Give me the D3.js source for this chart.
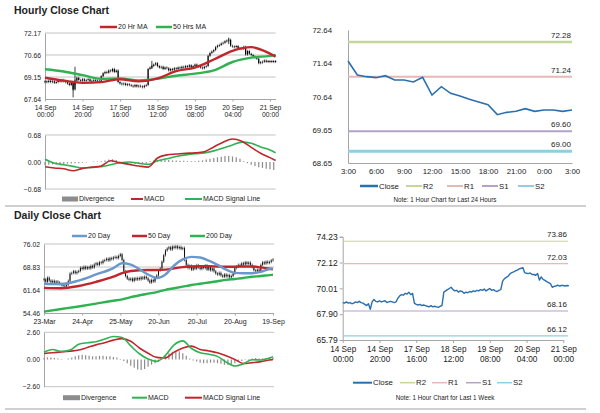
<!DOCTYPE html>
<html>
<head>
<meta charset="utf-8">
<script src="https://cdn.jsdelivr.net/npm/d3@7"></script>
<style>
body { margin: 0; background: #fff; }
svg { display: block; font-family: 'Liberation Sans', Arial, sans-serif; }
</style>
</head>
<body>
<svg id="board" width="600" height="413"></svg>
<script>
// hourly closes, one per bar, 14 Sep 00:00 onward (also used for the 1 week chart)
let hourClose = [68.85, 68.8, 68.9, 68.8, 68.85, 68.75, 68.8, 68.9, 68.85, 68.95, 68.85, 68.8,
    68.7, 68.6, 68.75, 68.3, 68.9, 69.1,
    68.95, 68.9, 69.0, 68.9, 68.95, 69.0, 68.85, 68.9, 68.95, 68.9, 68.85, 68.9,
    69.2, 69.4, 69.5, 69.45, 69.6, 69.55, 69.7, 69.5, 69.6,
    68.8, 68.7, 68.65, 68.7, 68.6, 68.65, 68.6, 68.55, 68.5, 68.6, 68.5, 68.55, 68.5, 68.45, 68.55, 68.6,
    69.7,
    69.8, 69.9, 70.0, 70.1, 69.9, 69.8, 69.85, 69.7, 69.8, 69.75, 69.6, 69.7, 69.65, 69.75, 69.7, 69.8, 69.75, 69.85, 69.8, 69.9,
    69.85, 69.95, 69.8, 69.9, 70.0, 69.85, 69.9, 69.8, 69.75, 69.85, 69.9,
    70.6,
    70.8, 70.9, 71.0, 71.2, 71.3, 71.35, 71.45, 71.5, 71.6, 71.65,
    71.71, 71.29, 71.24, 71.21, 71.27, 71.14, 71.14, 71.08, 71.22, 70.69, 70.94, 70.74, 70.66,
    70.56, 70.48, 70.40, 70.10, 70.17, 70.20, 70.28, 70.20, 70.24, 70.24, 70.20, 70.24,
    70.22]
let spikeIdx = [15, 16, 57, 98]
let spikeHi = [68.75, 69.85, 70.25, 71.85]
let spikeLo = [67.75, 68.6, 69.7, 71.4]

let hourTicks = [0, 20, 40, 60, 80, 100, 120]
let hourTickLabels = ['14 Sep|00:00', '14 Sep|20:00', '17 Sep|16:00', '18 Sep|12:00', '19 Sep|08:00', '20 Sep|04:00', '21 Sep|00:00']

let hourMaIdx = [0, 10, 20, 30, 40, 50, 60, 70, 80, 90, 100, 110, 120, 123]
let ma20h = [69.1, 68.9, 68.75, 68.8, 69.0, 68.85, 69.05, 69.55, 69.8, 70.35, 70.95, 71.2, 70.75, 70.55]
let ma50h = [69.68, 69.53, 69.28, 69.02, 69.05, 68.92, 69.03, 69.24, 69.38, 69.6, 70.18, 70.48, 70.6, 70.66]

let hourMacdIdx = [0, 5, 10, 15, 20, 25, 30, 35, 40, 45, 50, 55, 60, 65, 70, 75, 80, 85, 90, 95, 100, 105, 110, 115, 120, 123]
let macdH = [-0.12, -0.15, -0.17, -0.22, -0.16, -0.13, -0.1, 0.03, -0.02, -0.06, -0.1, -0.13, 0.1, 0.18, 0.2, 0.22, 0.23, 0.26, 0.38, 0.5, 0.58, 0.52, 0.37, 0.22, 0.11, 0.04]
let signalH = [0.07, -0.03, -0.07, -0.11, -0.15, -0.14, -0.12, -0.07, -0.02, 0, -0.03, -0.06, 0.03, 0.08, 0.14, 0.18, 0.21, 0.23, 0.28, 0.35, 0.43, 0.5, 0.47, 0.38, 0.3, 0.23]
// divergence every second hour bar
let divH = [-0.08, -0.07, -0.06, -0.06, -0.05, -0.05, -0.04, -0.04, -0.03, -0.03,
    -0.02, -0.01, 0, 0.01, 0.01, 0.02,
    0.04, 0.06, 0.07, 0.05,
    0.01, -0.02, -0.03, -0.04, -0.05, -0.05, -0.04, -0.04,
    0.02, 0.04, 0.05, 0.05, 0.06, 0.05, 0.04, 0.04, 0.03, 0.03, 0.02, 0.02, 0.02, 0.03,
    0.04, 0.06, 0.08, 0.1, 0.12, 0.13, 0.15, 0.15, 0.14, 0.12, 0.08,
    0.02, -0.03, -0.07, -0.1, -0.13, -0.15, -0.17, -0.18, -0.2]

// last 24 hours
let dayHours = ['3:00', '6:00', '9:00', '12:00', '15:00', '18:00', '21:00', '0:00', '3:00']
let close24 = [71.71, 71.29, 71.24, 71.21, 71.27, 71.14, 71.14, 71.08, 71.22, 70.69, 70.94, 70.74, 70.66,
    70.56, 70.48, 70.40, 70.10, 70.17, 70.20, 70.28, 70.20, 70.24, 70.24, 70.20, 70.24]
let levels24 = [72.28, 71.24, 69.60, 69.00]
let levelsWeek = [73.86, 72.03, 68.16, 66.12]
let levelNames = ['R2', 'R1', 'S1', 'S2']

// daily closes 23-Mar .. 19-Sep
let dayClose = [65.0, 64.2, 65.5, 64.6, 64.0, 64.5, 63.9, 64.3, 64.0, 63.5,
    63.2, 63.0, 62.8, 63.3, 64.5, 66.8, 67.0, 67.5, 66.9, 67.3,
    67.6, 68.6, 68.2, 68.9, 68.3, 68.8, 68.4, 69.2, 68.7, 69.6,
    70.0, 69.5, 70.3, 70.1, 70.8, 71.0, 71.4, 70.9, 71.6, 71.3,
    71.8, 72.0, 71.6, 72.3, 72.8, 71.0, 67.5, 66.0, 65.2, 64.8,
    65.2, 64.5, 65.3, 64.9, 65.4, 65.0, 65.6, 65.2, 65.8, 65.3,
    64.6, 64.0, 64.8, 64.3, 65.5, 66.2, 67.8, 68.4, 70.5, 72.5,
    74.0, 74.6, 75.0, 74.3, 75.2, 74.8, 75.3, 74.7, 75.1, 74.5,
    74.8, 71.0, 69.5, 68.5, 69.2, 68.0, 68.9, 68.3, 69.4, 68.7,
    68.2, 69.0, 68.5, 69.3, 68.0, 68.8, 67.8, 68.4, 67.5, 66.8,
    66.5, 67.0, 66.2, 65.8, 66.5, 65.9, 66.3, 65.6, 66.0, 66.8,
    68.5, 69.0, 69.5, 69.2, 70.0, 69.6, 70.3, 69.8, 70.2, 69.5,
    68.8, 67.8, 67.5, 68.0, 67.6, 69.5, 70.3, 69.9, 70.5, 70.1,
    70.4, 70.9, 71.2]
let dayTicks = [0, 22, 44, 66, 88, 110, 132]
let dayTickLabels = ['23-Mar', '24-Apr', '25-May', '20-Jun', '20-Jul', '20-Aug', '19-Sep']

let dayMaIdx = [0, 10, 20, 30, 40, 45, 50, 60, 65, 70, 75, 80, 85, 90, 95, 100, 105, 110, 115, 120, 125, 130, 132]
let ma20d = [63.6, 63.5, 64.6, 66.5, 68.5, 70.0, 69.6, 66.5, 65.4, 66.5, 69.3, 71.2, 72.0, 71.8, 70.8, 69.5, 68.0, 67.0, 66.9, 66.9, 67.3, 68.2, 68.4]
let ma50d = [62.3, 62.2, 62.9, 64.2, 65.8, 66.9, 67.6, 67.9, 67.9, 68.0, 68.4, 68.8, 69.0, 69.1, 69.1, 69.0, 68.9, 68.9, 69.0, 69.0, 68.7, 68.3, 68.1]
let ma200d = [54.9, 55.7, 56.5, 57.4, 58.3, 58.7, 59.4, 60.5, 61.0, 61.7, 62.2, 62.7, 63.2, 63.6, 64.0, 64.4, 64.8, 65.1, 65.4, 65.8, 66.0, 66.3, 66.4]

let dayMacdIdx = [0, 5, 10, 15, 20, 25, 30, 35, 40, 45, 50, 55, 60, 65, 70, 75, 80, 85, 90, 95, 100, 105, 110, 115, 120, 125, 130, 132]
let macdD = [0.7, 0.95, 0.78, 0.9, 1.45, 1.6, 1.7, 1.95, 2.2, 2.1, 1.3, 0.55, 0.05, -0.18, 0.4, 1.4, 1.78, 1.05, 0.65, 0.5, 0.3, -0.25, -0.62, -0.4, -0.02, -0.05, 0.15, 0.26]
let signalD = [0.58, 0.65, 0.72, 0.8, 0.9, 1.15, 1.4, 1.6, 1.85, 2.0, 1.75, 1.1, 0.6, 0.2, 0.15, 0.7, 1.1, 1.28, 0.96, 0.82, 0.64, 0.35, 0.0, -0.38, -0.3, -0.2, -0.05, 0.0]
// divergence every second day
let divD = [0.15, 0.2, 0.2, 0.15, 0.1,
    0.05, 0.0,
    0.1, 0.2, 0.3, 0.4, 0.45, 0.4, 0.35, 0.3, 0.3, 0.35, 0.35, 0.3, 0.3,
    0.25, 0.2, 0.05,
    -0.15, -0.35, -0.6, -0.8, -0.95, -1.0, -0.9,
    -0.7, -0.5, -0.35, -0.2,
    0.1, 0.35, 0.6, 0.75, 0.85, 0.8, 0.6,
    0.35, 0.1,
    -0.1, -0.2, -0.3, -0.35, -0.35, -0.3, -0.3,
    -0.35, -0.4, -0.5, -0.5, -0.45,
    -0.35, -0.25, -0.15, -0.05,
    0.05, 0.1, 0.15, 0.1, 0.1, 0.15, 0.2, 0.2]

let red = '#c0272d'
let green = '#30b152'
let blue20 = '#6a98cc'
let closeBlue = '#2a6fae'
let divGray = '#8c8c8c'
let axisGray = '#a6a6a6'
let levelColors = ['#c4d79b', '#e6b9b8', '#b3a2c7', '#8fcfdf']
let textColor = '#222'

let board = d3.select('#board')

let yAxis = function(g, scale, values, x, fontSize) {
    let ax = g.append('g')
        .attr('transform', 'translate(' + x + ',0)')
        .call(d3.axisLeft(scale).tickValues(values).tickFormat(d3.format('.2f')).tickSize(0).tickPadding(4))
    ax.select('.domain').attr('stroke', axisGray)
    ax.selectAll('text').attr('font-size', fontSize).attr('fill', textColor).attr('font-family', null)
    return ax
}

let xAxis = function(g, scale, values, labels, y, fontSize, tick) {
    let ax = g.append('g')
        .attr('transform', 'translate(0,' + y + ')')
        .call(d3.axisBottom(scale).tickValues(values).tickFormat('').tickSize(tick).tickSizeOuter(0))
    ax.select('.domain').attr('stroke', axisGray)
    ax.selectAll('.tick line').attr('stroke', axisGray)
    ax.selectAll('.tick').each(function(d, i) {
        let parts = labels[i].split('|')
        let t = d3.select(this).append('text')
            .attr('fill', textColor)
            .attr('font-size', fontSize)
            .attr('text-anchor', 'middle')
        parts.forEach((p, k) => {
            t.append('tspan').attr('x', 0).attr('y', tick + 2 + fontSize * 0.9 + k * (fontSize + 1)).text(p)
        })
    })
}

let grid = function(g, scale, values, x1, x2) {
    g.selectAll(null).data(values).enter().append('line')
        .attr('x1', x1).attr('x2', x2)
        .attr('y1', d => scale(d)).attr('y2', d => scale(d))
        .attr('stroke', '#c3c3c3')
}

let legendLine = function(g, x1, x2, y, color, width, label, fontSize) {
    g.append('line').attr('x1', x1).attr('x2', x2).attr('y1', y).attr('y2', y)
        .attr('stroke', color).attr('stroke-width', width)
    g.append('text').attr('x', x2 + 1).attr('y', y + fontSize * 0.35)
        .attr('font-size', fontSize).attr('fill', textColor).text(label)
}

let legendBar = function(g, x1, x2, y, label, fontSize) {
    g.append('rect').attr('x', x1).attr('y', y - 2.5).attr('width', x2 - x1).attr('height', 5).attr('fill', divGray)
    g.append('text').attr('x', x2 + 1).attr('y', y + fontSize * 0.35)
        .attr('font-size', fontSize).attr('fill', textColor).text(label)
}

let drawCandles = function(g, closes, x, y, tail, bodyW) {
    let c = g.append('g')
    closes.forEach((d, i) => {
        let o = i > 0 ? closes[i - 1] : d
        let top = Math.min(y(o), y(d))
        let bot = Math.max(y(o), y(d))
        if (bot - top < 0.8) { bot = top + 0.8 }
        c.append('line').attr('x1', x(i)).attr('x2', x(i))
            .attr('y1', top - tail).attr('y2', bot + tail)
            .attr('stroke', '#222').attr('stroke-width', 0.6)
        c.append('line').attr('x1', x(i)).attr('x2', x(i))
            .attr('y1', top).attr('y2', bot)
            .attr('stroke', '#000').attr('stroke-width', bodyW)
    })
    return c
}

let drawDiv = function(g, values, x, y, step) {
    g.selectAll(null).data(values).enter().append('line')
        .attr('x1', (d, i) => x(i * step)).attr('x2', (d, i) => x(i * step))
        .attr('y1', y(0)).attr('y2', d => y(d))
        .attr('stroke', divGray).attr('stroke-width', 1.2)
}

let curve = function(g, idx, values, x, y, color, width) {
    let line = d3.line()
        .x((d, i) => x(idx[i]))
        .y(d => y(d))
        .curve(d3.curveMonotoneX)
    g.append('path').attr('d', line(values))
        .attr('fill', 'none').attr('stroke', color).attr('stroke-width', width)
        .attr('stroke-linejoin', 'round')
}

// titles and separators
board.append('text').attr('x', 14).attr('y', 14).attr('font-size', 10.5).attr('font-weight', 'bold').attr('fill', textColor).text('Hourly Close Chart')
board.append('text').attr('x', 14).attr('y', 219).attr('font-size', 10.5).attr('font-weight', 'bold').attr('fill', textColor).text('Daily Close Chart')
board.append('line').attr('x1', 5).attr('x2', 586).attr('y1', 206).attr('y2', 206).attr('stroke', '#a0a0a0')
board.append('line').attr('x1', 5).attr('x2', 586).attr('y1', 409).attr('y2', 409).attr('stroke', '#a0a0a0')

// ---- hourly candles ----
let xH = d3.scaleLinear().domain([0, 123]).range([45, 275.6])
let yH = d3.scaleLinear().domain([67.64, 72.17]).range([99, 33])
let gA = board.append('g')
grid(gA, yH, [69.15, 70.66, 72.17], 45, 275.6)
yAxis(gA, yH, [67.64, 69.15, 70.66, 72.17], 45, 6.8)
xAxis(gA, xH, hourTicks, hourTickLabels, 99, 6.8, 2.5)
drawCandles(gA, hourClose, xH, yH, 1.2, 1.2)
spikeIdx.forEach((d, k) => {
    gA.append('line').attr('x1', xH(d)).attr('x2', xH(d))
        .attr('y1', yH(spikeHi[k])).attr('y2', yH(spikeLo[k]))
        .attr('stroke', '#111').attr('stroke-width', 0.8)
})
curve(gA, hourMaIdx, ma50h, xH, yH, green, 2.4)
curve(gA, hourMaIdx, ma20h, xH, yH, red, 2.4)
legendLine(gA, 100, 117, 27, red, 2.5, '20 Hr MA', 7)
legendLine(gA, 156, 172, 27, green, 2.5, '50 Hrs MA', 7)

// ---- hourly MACD ----
let yHm = d3.scaleLinear().domain([-0.68, 0.68]).range([189, 135])
let gB = board.append('g')
grid(gB, yHm, [0.68, -0.68], 45, 275.6)
yAxis(gB, yHm, [-0.68, 0, 0.68], 45, 6.8)
drawDiv(gB, divH, xH, yHm, 2)
curve(gB, hourMacdIdx, signalH, xH, yHm, green, 1.6)
curve(gB, hourMacdIdx, macdH, xH, yHm, red, 1.6)
legendBar(gB, 62, 78, 199, 'Divergence', 7)
legendLine(gB, 131, 143, 199, red, 2, 'MACD', 7)
legendLine(gB, 185, 202, 199, green, 2, 'MACD Signal Line', 7)

// ---- last 24 hours ----
let xC = d3.scaleLinear().domain([0, 24]).range([348, 572])
let yC = d3.scaleLinear().domain([68.65, 72.64]).range([163, 30])
let gC = board.append('g')
let axC = gC.append('g').attr('transform', 'translate(348,0)')
    .call(d3.axisLeft(yC).tickValues([68.65, 69.65, 70.64, 71.64, 72.64]).tickFormat(d3.format('.2f')).tickSize(0).tickPadding(16))
axC.select('.domain').attr('stroke', axisGray)
axC.selectAll('text').attr('font-size', 7.8).attr('fill', textColor).attr('font-family', null)
let axCb = gC.append('g').attr('transform', 'translate(0,163)')
    .call(d3.axisBottom(xC).tickValues([0, 3, 6, 9, 12, 15, 18, 21, 24]).tickFormat((d, i) => dayHours[i]).tickSize(0).tickPadding(5))
axCb.select('.domain').attr('stroke', axisGray)
axCb.selectAll('text').attr('font-size', 7.8).attr('fill', textColor).attr('font-family', null)
let levelW24 = [2.5, 2, 2, 3]
levels24.forEach((v, k) => {
    gC.append('line').attr('x1', 348).attr('x2', 572).attr('y1', yC(v)).attr('y2', yC(v))
        .attr('stroke', levelColors[k]).attr('stroke-width', levelW24[k])
    gC.append('text').attr('x', 571).attr('y', yC(v) - 4).attr('text-anchor', 'end')
        .attr('font-size', 8).attr('fill', textColor).text(v.toFixed(2))
})
gC.append('path').attr('d', d3.line().x((d, i) => xC(i)).y(d => yC(d))(close24))
    .attr('fill', 'none').attr('stroke', closeBlue).attr('stroke-width', 1.6)
legendLine(gC, 360, 378, 186, closeBlue, 2.5, 'Close', 7.8)
let legX24 = [406, 447, 482, 518]
levelNames.forEach((n, k) => {
    legendLine(gC, legX24[k], legX24[k] + 16, 186, levelColors[k], 2, n, 7.8)
})
gC.append('text').attr('x', 445).attr('y', 202).attr('text-anchor', 'middle').attr('font-size', 6.3)
    .attr('fill', textColor).text('Note: 1 Hour Chart for Last 24 Hours')

// ---- daily candles ----
let xD = d3.scaleLinear().domain([0, 132]).range([44, 273])
let yD = d3.scaleLinear().domain([54.46, 76.02]).range([313, 244])
let gD = board.append('g')
grid(gD, yD, [61.64, 68.83, 76.02], 44, 274)
yAxis(gD, yD, [54.46, 61.64, 68.83, 76.02], 44, 6.8)
xAxis(gD, xD, dayTicks, dayTickLabels, 313, 7, 2.5)
drawCandles(gD, dayClose, xD, yD, 1.4, 0.9)
curve(gD, dayMaIdx, ma200d, xD, yD, green, 2.4)
curve(gD, dayMaIdx, ma50d, xD, yD, red, 2.4)
curve(gD, dayMaIdx, ma20d, xD, yD, blue20, 2.4)
legendLine(gD, 72, 87, 236, blue20, 2.5, '20 Day', 7)
legendLine(gD, 132, 147, 236, red, 2.5, '50 Day', 7)
legendLine(gD, 190, 205, 236, green, 2.5, '200 Day', 7)

// ---- daily MACD ----
let yDm = d3.scaleLinear().domain([-2.6, 2.6]).range([386.7, 332.3])
let gE = board.append('g')
grid(gE, yDm, [2.6, -2.6], 44, 274)
yAxis(gE, yDm, [-2.6, 0, 2.6], 44, 6.8)
drawDiv(gE, divD, xD, yDm, 2)
curve(gE, dayMacdIdx, signalD, xD, yDm, red, 1.6)
curve(gE, dayMacdIdx, macdD, xD, yDm, green, 1.6)
legendBar(gE, 63, 80, 397.7, 'Divergence', 7)
legendLine(gE, 132, 147, 397.7, green, 2, 'MACD', 7)
legendLine(gE, 185, 202, 397.7, red, 2, 'MACD Signal Line', 7)

// ---- last week, hourly ----
let xW = d3.scaleLinear().domain([0, 120]).range([342.7, 563.3])
let yW = d3.scaleLinear().domain([65.79, 74.23]).range([340, 236.7])
let gF = board.append('g')
let axF = gF.append('g').attr('transform', 'translate(342.7,0)')
    .call(d3.axisLeft(yW).tickValues([65.79, 67.90, 70.01, 72.12, 74.23]).tickFormat(d3.format('.2f')).tickSize(3).tickPadding(2))
axF.select('.domain').attr('stroke', axisGray)
axF.selectAll('.tick line').attr('stroke', axisGray)
axF.selectAll('text').attr('font-size', 8.5).attr('fill', textColor).attr('font-family', null)
xAxis(gF, xW, hourTicks, hourTickLabels, 340, 8.2, 3)
levelsWeek.forEach((v, k) => {
    gF.append('line').attr('x1', 343).attr('x2', 568).attr('y1', yW(v)).attr('y2', yW(v))
        .attr('stroke', levelColors[k]).attr('stroke-width', 1.2)
    gF.append('text').attr('x', 567).attr('y', yW(v) - 4).attr('text-anchor', 'end')
        .attr('font-size', 8).attr('fill', textColor).text(v.toFixed(2))
})
gF.append('path').attr('d', d3.line().x((d, i) => xW(i)).y(d => yW(d))(hourClose))
    .attr('fill', 'none').attr('stroke', closeBlue).attr('stroke-width', 1.4).attr('stroke-linejoin', 'round')
legendLine(gF, 353, 372, 382.7, closeBlue, 2, 'Close', 7.8)
let legXW = [400, 432, 466, 497]
levelNames.forEach((n, k) => {
    legendLine(gF, legXW[k], legXW[k] + 15, 382.7, levelColors[k], 1.5, n, 7.8)
})
gF.append('text').attr('x', 445).attr('y', 400).attr('text-anchor', 'middle').attr('font-size', 6.3)
    .attr('fill', textColor).text('Note: 1 Hour Chart for Last 1 Week')
</script>
</body>
</html>
